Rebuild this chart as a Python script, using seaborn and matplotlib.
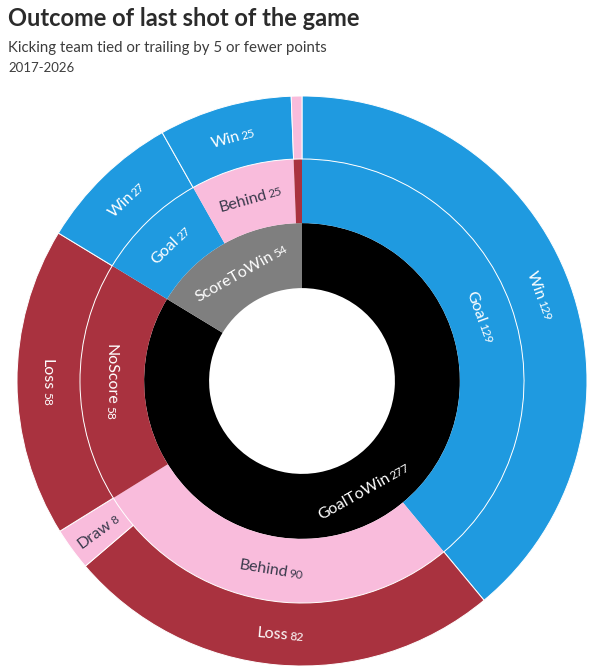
import numpy as np
import matplotlib.pyplot as plt
import seaborn as sns

# inner ring: type of last shot
shot_type = ["GoalToWin", "ScoreToWin"]
shot_count = [277, 54]

# middle ring: result of the shot (same order as inner ring)
result = ["Goal", "Behind", "NoScore", "Goal", "Behind", "NoScore"]
result_count = [129, 90, 58, 27, 25, 2]

# outer ring: game outcome (same order as middle ring)
outcome = ["Win", "Loss", "Draw", "Loss", "Win", "Win", "Draw"]
outcome_count = [129, 82, 8, 58, 27, 25, 2]

BLUE = "#1f9ae0"
RED = "#a9323f"
PINK = "#f9bcdc"
palette = {"GoalToWin": "#000000", "ScoreToWin": "#7f7f7f",
           "Goal": BLUE, "Behind": PINK, "NoScore": RED,
           "Win": BLUE, "Loss": RED, "Draw": PINK}

sns.set_theme(style="white")
plt.rcParams['font.family'] = ['Lato', 'DejaVu Sans']

W_PX, H_PX = 602, 672
fig = plt.figure(figsize=(W_PX / 100, H_PX / 100), dpi=100)

# chart centre and outer radius in pixels (from top-left)
cx, cy, R = 302, 381, 285
ax = fig.add_axes([(cx - R) / W_PX, (H_PX - cy - R) / H_PX, 2 * R / W_PX, 2 * R / H_PX])

# ring radii (fraction of outer radius), edge width of each ring
r_hole, r_in, r_mid, r_out = 0.326, 0.554, 0.779, 1.0
rings = [
    (shot_type, shot_count, r_hole, r_in, 0.0),
    (result, result_count, r_in, r_mid, 0.0),
    (outcome, outcome_count, r_mid, r_out, 0.7),
]

for names, counts, r0, r1, lw in rings:
    ax.pie(counts, radius=r1, startangle=90, counterclock=False,
           colors=[palette[n] for n in names],
           wedgeprops=dict(width=r1 - r0, edgecolor="white", linewidth=lw))

ax.set_xlim(-1, 1)
ax.set_ylim(-1, 1)
ax.set_aspect("equal")
ax.axis("off")

renderer = fig.canvas.get_renderer()
px = 1.0 / R  # data units per pixel
name_size, count_size = 11.5, 8.6


def text_width(s, size):
    t = fig.text(0, 0, s, fontsize=size)
    w = t.get_window_extent(renderer).width
    t.remove()
    return w * px


def ring_label(name, count, theta, r, color, radial):
    rot = (90 - theta) if radial else -theta
    rot = (rot + 90) % 180 - 90
    a = np.deg2rad(rot)
    d = np.array([np.cos(a), np.sin(a)])
    u = np.array([-np.sin(a), np.cos(a)])
    c = np.array([r * np.sin(np.deg2rad(theta)), r * np.cos(np.deg2rad(theta))])
    wn = text_width(name, name_size)
    wk = text_width(str(count), count_size)
    gap = 1.5 * px
    start = c - d * (wn + gap + wk) / 2 - u * 5.5 * px
    kw = dict(rotation=rot, rotation_mode="anchor", ha="left", va="baseline", color=color)
    ax.text(*start, name, fontsize=name_size, **kw)
    ax.text(*(start + d * (wn + gap)), str(count), fontsize=count_size, **kw)


total = sum(shot_count)
for names, counts, r0, r1, lw in rings:
    cum = np.cumsum(counts)
    for n, v, e in zip(names, counts, cum):
        if v < 5:
            continue
        theta = (e - v / 2) / total * 360
        span = v / total * 360
        col = "#3a3a4c" if palette[n] == PINK else "white"
        ring_label(n, v, theta, (r0 + r1) / 2, col, radial=span < 15)

fig.text(8 / W_PX, 1 - 26 / H_PX, "Outcome of last shot of the game",
         fontsize=17, fontweight="bold", color="#2b2b2b", va="baseline")
fig.text(8 / W_PX, 1 - 52 / H_PX, "Kicking team tied or trailing by 5 or fewer points",
         fontsize=10.8, color="#3d3d3d", va="baseline")
fig.text(8 / W_PX, 1 - 72 / H_PX, "2017-2026",
         fontsize=9.5, color="#3d3d3d", va="baseline")

fig.savefig("out.png", dpi=100)
